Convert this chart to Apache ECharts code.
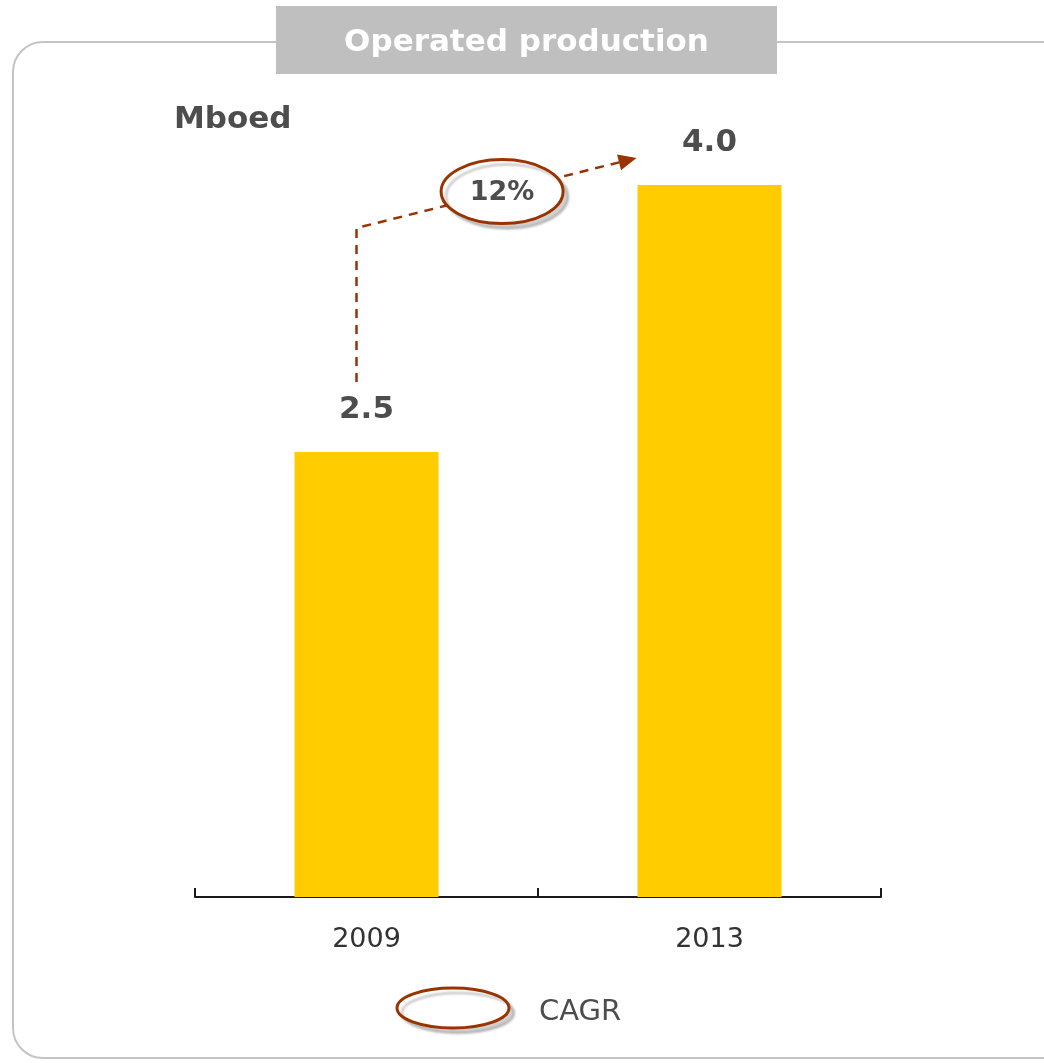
<!DOCTYPE html>
<html>
<head>
<meta charset="utf-8">
<script src="https://cdn.jsdelivr.net/npm/echarts@6/dist/echarts.min.js"></script>
<style>
  html, body { margin: 0; padding: 0; background: #ffffff; }
  #chart { width: 1044px; height: 1063px; }
</style>
</head>
<body>
<div id="chart"></div>
<script>
// Operated production, million barrels of oil equivalent per day
const years = ['2009', '2013'];
const production = [2.5, 4.0];
const unitLabel = 'Mboed';
const panelTitle = 'Operated production';
const cagrValue = '12%';
const legendLabel = 'CAGR';

const FONT = '"DejaVu Sans", Verdana, sans-serif';
const DARK = '#4d4d4d';
const ACCENT = '#993300';
const BAR = '#ffcc00';

const chart = echarts.init(document.getElementById('chart'), null, { renderer: 'canvas' });

chart.setOption({
  animation: false,
  backgroundColor: '#ffffff',
  grid: { left: 195, right: 163, top: 96, bottom: 166 },
  xAxis: {
    type: 'category',
    data: years,
    axisLine: { show: true, lineStyle: { color: '#1a1a1a', width: 2 } },
    axisTick: { show: true, inside: true, length: 9, alignWithLabel: false, lineStyle: { color: '#1a1a1a', width: 2 } },
    axisLabel: { margin: 29, fontFamily: FONT, fontSize: 27, color: '#333333' }
  },
  yAxis: { type: 'value', min: 0, max: 4.5, show: false },
  series: [{
    type: 'bar',
    data: production,
    barWidth: 144,
    barGap: '0%',
    itemStyle: { color: BAR },
    label: {
      show: true,
      position: 'top',
      distance: 27,
      fontFamily: FONT,
      fontWeight: 'bold',
      fontSize: 31,
      color: DARK,
      formatter: p => p.value.toFixed(1)
    }
  }]
});

// Annotation anchored to the bar tops
const a = chart.convertToPixel({ xAxisIndex: 0, yAxisIndex: 0 }, [years[0], production[0]]);
const b = chart.convertToPixel({ xAxisIndex: 0, yAxisIndex: 0 }, [years[1], production[1]]);

const start = [a[0] - 10, a[1] - 70];
const corner = [a[0] - 10, b[1] + 43];
const tip = [b[0] - 73, b[1] - 27];
const dx = tip[0] - corner[0], dy = tip[1] - corner[1];
const len = Math.sqrt(dx * dx + dy * dy);
const ux = dx / len, uy = dy / len;
const headLen = 18, headHalf = 8;
const base = [tip[0] - ux * headLen, tip[1] - uy * headLen];
const head = [
  tip,
  [base[0] - uy * headHalf, base[1] + ux * headHalf],
  [base[0] + uy * headHalf, base[1] - ux * headHalf]
];
const t = 0.52;
const bubble = [corner[0] + dx * t, corner[1] + dy * t];

const ellipseStyle = {
  fill: '#ffffff',
  stroke: ACCENT,
  lineWidth: 3,
  shadowColor: 'rgba(0,0,0,0.18)',
  shadowBlur: 2,
  shadowOffsetX: 5,
  shadowOffsetY: 5
};

chart.setOption({
  graphic: [
    // panel frame
    {
      type: 'rect', z: 0,
      shape: { x: 13, y: 42, width: 1080, height: 1016, r: 30 },
      style: { fill: 'none', stroke: '#c4c4c4', lineWidth: 2 }
    },
    // title tab
    {
      type: 'rect', z: 1,
      shape: { x: 276, y: 6, width: 501, height: 68 },
      style: { fill: '#bfbfbf' }
    },
    {
      type: 'text', z: 2,
      x: 526.5, y: 43,
      style: {
        text: panelTitle, fill: '#ffffff', font: 'bold 31px ' + FONT,
        textAlign: 'center', textVerticalAlign: 'middle'
      }
    },
    // unit
    {
      type: 'text', z: 2,
      x: 174, y: 120,
      style: {
        text: unitLabel, fill: DARK, font: 'bold 31px ' + FONT,
        textAlign: 'left', textVerticalAlign: 'middle'
      }
    },
    // growth arrow
    {
      type: 'polyline', z: 3,
      shape: { points: [start, corner, base] },
      style: { stroke: ACCENT, lineWidth: 2.5, lineDash: [9, 7], fill: 'none' }
    },
    {
      type: 'polygon', z: 3,
      shape: { points: head },
      style: { fill: ACCENT }
    },
    {
      type: 'ellipse', z: 4,
      shape: { cx: bubble[0], cy: bubble[1], rx: 61, ry: 32 },
      style: ellipseStyle
    },
    {
      type: 'text', z: 5,
      x: bubble[0], y: bubble[1] + 1,
      style: {
        text: cagrValue, fill: DARK, font: 'bold 27px ' + FONT,
        textAlign: 'center', textVerticalAlign: 'middle'
      }
    },
    // legend
    {
      type: 'ellipse', z: 4,
      shape: { cx: 453, cy: 1008, rx: 56, ry: 20 },
      style: ellipseStyle
    },
    {
      type: 'text', z: 5,
      x: 539, y: 1012,
      style: {
        text: legendLabel, fill: DARK, font: '29px ' + FONT,
        textAlign: 'left', textVerticalAlign: 'middle'
      }
    }
  ]
});
</script>
</body>
</html>
